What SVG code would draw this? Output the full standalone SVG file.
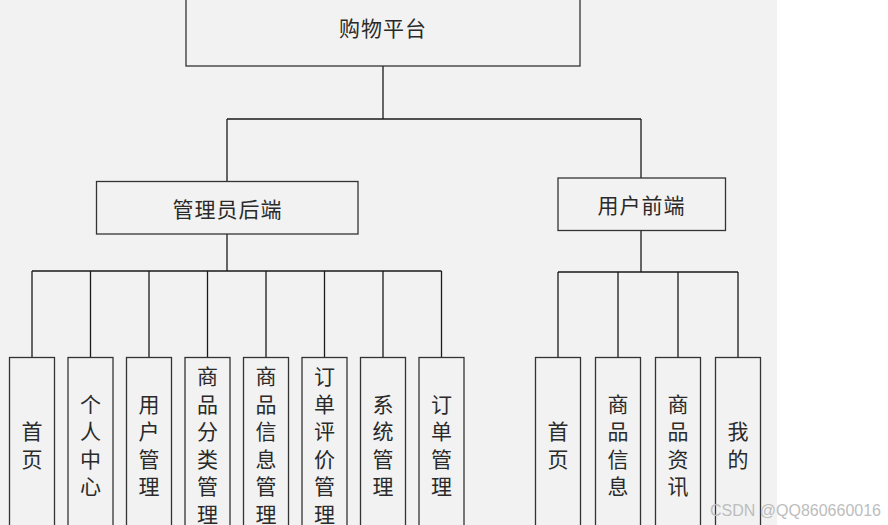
<svg xmlns="http://www.w3.org/2000/svg" width="888" height="525" viewBox="0 0 888 525">
<style>
.bg{fill:#f2f2f2}
.box{fill:#f2f2f2;stroke:#333;stroke-width:1.3}
.ln{fill:none;stroke:#1a1a1a;stroke-width:1.3}
.t{font-family:"Noto Sans CJK SC","Noto Sans CJK JP",sans-serif;font-size:21px;fill:#2a2a2a;text-anchor:middle;dominant-baseline:central}
.h{letter-spacing:1px}
.wm{font-family:"Liberation Sans",Arial,sans-serif;font-size:16px;fill:#bdbdbd}
</style>
<rect x="0" y="0" width="888" height="525" fill="#ffffff"/>
<rect class="bg" x="0" y="0" width="777" height="525"/>
<g id="connectors">
<path class="ln" d="M383 66V119M227 119H641M227 119V181M641 119V178"/>
<path class="ln" d="M227 234V271M32 271H441.5M32 271V357M90.5 271V357M149 271V357M207.5 271V357M266 271V357M324.5 271V357M383 271V357M441.5 271V357"/>
<path class="ln" d="M641 231V272M558 272H738M558 272V357M618 272V357M678 272V357M738 272V357"/>
</g>
<g id="root"><rect class="box" x="186" y="-2" width="394" height="68"/><text class="t h" x="383" y="27">购物平台</text></g>
<g id="admin"><rect class="box" x="96.5" y="181.5" width="261.5" height="52.5"/><text class="t h" x="227.5" y="208">管理员后端</text></g>
<g id="user"><rect class="box" x="558" y="178" width="167.5" height="52.5"/><text class="t h" x="641.5" y="204">用户前端</text></g>
<g id="a1"><rect class="box" x="9.5" y="357.5" width="45" height="180"/><text class="t"><tspan x="32" y="430">首</tspan><tspan x="32" y="458">页</tspan></text></g>
<g id="a2"><rect class="box" x="68" y="357.5" width="45" height="180"/><text class="t"><tspan x="90.5" y="403">个</tspan><tspan x="90.5" y="430">人</tspan><tspan x="90.5" y="457.5">中</tspan><tspan x="90.5" y="485">心</tspan></text></g>
<g id="a3"><rect class="box" x="126.5" y="357.5" width="45" height="180"/><text class="t"><tspan x="149" y="403">用</tspan><tspan x="149" y="430">户</tspan><tspan x="149" y="457.5">管</tspan><tspan x="149" y="485">理</tspan></text></g>
<g id="a4"><rect class="box" x="185" y="357.5" width="45" height="180"/><text class="t"><tspan x="207.5" y="375">商</tspan><tspan x="207.5" y="402.5">品</tspan><tspan x="207.5" y="430">分</tspan><tspan x="207.5" y="457.5">类</tspan><tspan x="207.5" y="485">管</tspan><tspan x="207.5" y="512.5">理</tspan></text></g>
<g id="a5"><rect class="box" x="243.5" y="357.5" width="45" height="180"/><text class="t"><tspan x="266" y="375">商</tspan><tspan x="266" y="402.5">品</tspan><tspan x="266" y="430">信</tspan><tspan x="266" y="457.5">息</tspan><tspan x="266" y="485">管</tspan><tspan x="266" y="512.5">理</tspan></text></g>
<g id="a6"><rect class="box" x="302" y="357.5" width="45" height="180"/><text class="t"><tspan x="324.5" y="375">订</tspan><tspan x="324.5" y="402.5">单</tspan><tspan x="324.5" y="430">评</tspan><tspan x="324.5" y="457.5">价</tspan><tspan x="324.5" y="485">管</tspan><tspan x="324.5" y="512.5">理</tspan></text></g>
<g id="a7"><rect class="box" x="360.5" y="357.5" width="45" height="180"/><text class="t"><tspan x="383" y="403">系</tspan><tspan x="383" y="430">统</tspan><tspan x="383" y="457.5">管</tspan><tspan x="383" y="485">理</tspan></text></g>
<g id="a8"><rect class="box" x="419" y="357.5" width="45" height="180"/><text class="t"><tspan x="441.5" y="403">订</tspan><tspan x="441.5" y="430">单</tspan><tspan x="441.5" y="457.5">管</tspan><tspan x="441.5" y="485">理</tspan></text></g>
<g id="u1"><rect class="box" x="535.5" y="357.5" width="45" height="180"/><text class="t"><tspan x="558" y="430">首</tspan><tspan x="558" y="458">页</tspan></text></g>
<g id="u2"><rect class="box" x="595.5" y="357.5" width="45" height="180"/><text class="t"><tspan x="618" y="403">商</tspan><tspan x="618" y="430">品</tspan><tspan x="618" y="457.5">信</tspan><tspan x="618" y="485">息</tspan></text></g>
<g id="u3"><rect class="box" x="655.5" y="357.5" width="45" height="180"/><text class="t"><tspan x="678" y="403">商</tspan><tspan x="678" y="430">品</tspan><tspan x="678" y="457.5">资</tspan><tspan x="678" y="485">讯</tspan></text></g>
<g id="u4"><rect class="box" x="715.5" y="357.5" width="45" height="180"/><text class="t"><tspan x="738" y="430">我</tspan><tspan x="738" y="458">的</tspan></text></g>
<text class="wm" x="710" y="516">CSDN @QQ860660016</text>
</svg>
